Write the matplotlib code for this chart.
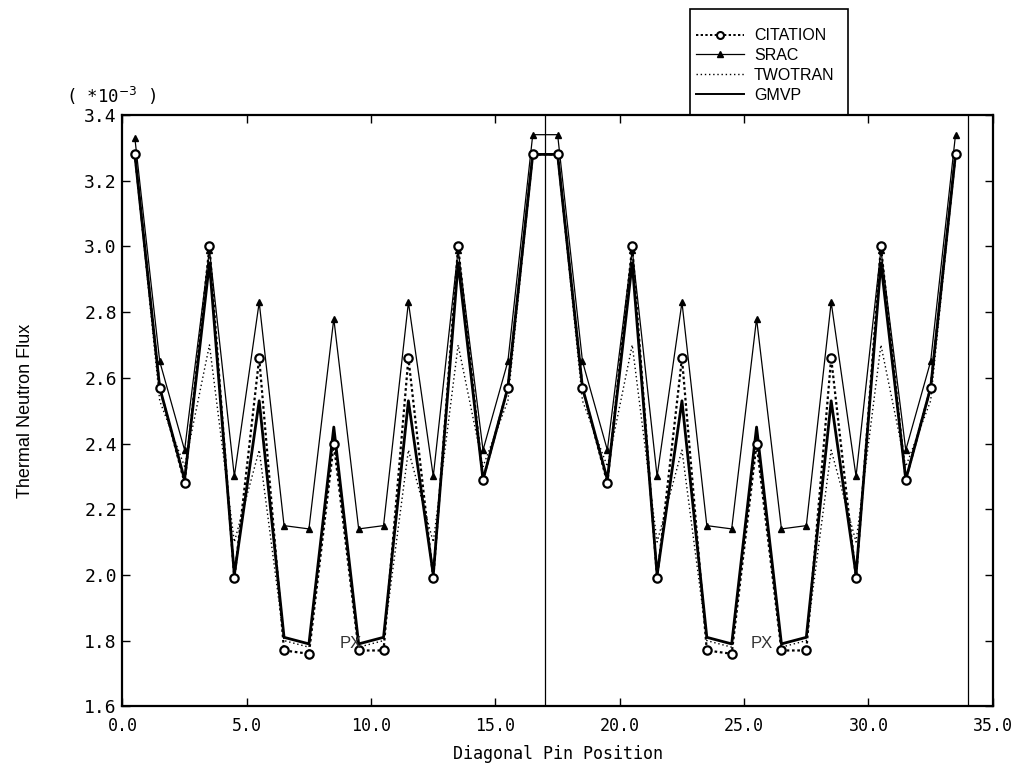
import matplotlib
matplotlib.use("Agg")
import matplotlib.pyplot as plt
from matplotlib.lines import Line2D
from matplotlib.patches import Rectangle

pin_position = [0.5, 1.5, 2.5, 3.5, 4.5, 5.5, 6.5, 7.5, 8.5, 9.5, 10.5, 11.5, 12.5, 13.5, 14.5, 15.5, 16.5,
                17.5, 18.5, 19.5, 20.5, 21.5, 22.5, 23.5, 24.5, 25.5, 26.5, 27.5, 28.5, 29.5, 30.5, 31.5, 32.5, 33.5]

citation = [3.28, 2.57, 2.28, 3.00, 1.99, 2.66, 1.77, 1.76, 2.40, 1.77, 1.77, 2.66, 1.99, 3.00, 2.29, 2.57, 3.28,
            3.28, 2.57, 2.28, 3.00, 1.99, 2.66, 1.77, 1.76, 2.40, 1.77, 1.77, 2.66, 1.99, 3.00, 2.29, 2.57, 3.28]
srac = [3.33, 2.65, 2.38, 2.99, 2.30, 2.83, 2.15, 2.14, 2.78, 2.14, 2.15, 2.83, 2.30, 2.99, 2.38, 2.65, 3.34,
        3.34, 2.65, 2.38, 2.99, 2.30, 2.83, 2.15, 2.14, 2.78, 2.14, 2.15, 2.83, 2.30, 2.99, 2.38, 2.65, 3.34]
twotran = [3.28, 2.53, 2.33, 2.70, 2.10, 2.38, 1.80, 1.78, 2.42, 1.78, 1.80, 2.38, 2.10, 2.70, 2.33, 2.53, 3.28,
           3.28, 2.53, 2.33, 2.70, 2.10, 2.38, 1.80, 1.78, 2.42, 1.78, 1.80, 2.38, 2.10, 2.70, 2.33, 2.53, 3.28]
gmvp = [3.28, 2.57, 2.29, 2.95, 2.00, 2.53, 1.81, 1.79, 2.45, 1.79, 1.81, 2.53, 2.00, 2.95, 2.29, 2.57, 3.28,
        3.28, 2.57, 2.29, 2.95, 2.00, 2.53, 1.81, 1.79, 2.45, 1.79, 1.81, 2.53, 2.00, 2.95, 2.29, 2.57, 3.28]

series_names = ["CITATION", "SRAC", "TWOTRAN", "GMVP"]
x_ticks = [0.0, 5.0, 10.0, 15.0, 20.0, 25.0, 30.0, 35.0]
y_ticks = [1.6, 1.8, 2.0, 2.2, 2.4, 2.6, 2.8, 3.0, 3.2, 3.4]
divider_positions = [17.0, 34.0]
px_labels = [(9.2, 1.79), (25.7, 1.79)]

mono = "DejaVu Sans Mono"

fig = plt.figure(figsize=(10.21, 7.64), dpi=100)
ax = fig.add_axes([0.1199, 0.0755, 0.8525, 0.774])

ax.plot(pin_position, gmvp, color="black", lw=2.0, zorder=3)
ax.plot(pin_position, srac, color="black", lw=0.9, marker="^", ms=4.2, zorder=4)
ax.plot(pin_position, twotran, color="black", lw=1.0, linestyle=(0, (1, 2)), zorder=2)
ax.plot(pin_position, citation, color="black", lw=1.6, linestyle=(0, (1.2, 1.2)),
        marker="o", ms=6.0, mfc="white", mec="black", mew=1.6, zorder=5)

for xv in divider_positions:
    ax.axvline(xv, color="black", lw=0.9, zorder=1)

for (xp, yp) in px_labels:
    ax.text(xp, yp, "PX", fontsize=12, color="#333333", ha="center", va="center",
            family="Liberation Sans", zorder=6)

ax.set_xlim(0, 35)
ax.set_ylim(1.6, 3.4)
ax.set_xticks(x_ticks)
ax.set_yticks(y_ticks)
ax.set_xticklabels([f"{v:.1f}" for v in x_ticks], family=mono, fontsize=12)
ax.set_yticklabels([f"{v:.1f}" for v in y_ticks], family=mono, fontsize=13)
ax.tick_params(direction="in", length=6, width=1, top=True, right=True, pad=4)
ax.tick_params(axis="x", pad=8)
for s in ax.spines.values():
    s.set_linewidth(1.6)

ax.set_xlabel("Diagonal Pin Position", family=mono, fontsize=12, labelpad=7)
ax.set_ylabel("Thermal Neutron Flux", family="Liberation Sans", fontsize=13, labelpad=36)

ax.text(-0.065, 1.014, "( *10$^{-3}$ )", transform=ax.transAxes, family=mono,
        fontsize=12.5, ha="left", va="bottom")

handles = [
    Line2D([], [], color="black", lw=1.4, linestyle=(0, (1.2, 1.2)), marker="o", ms=5,
           mfc="white", mec="black", mew=1.5),
    Line2D([], [], color="black", lw=0.9, marker="^", ms=4),
    Line2D([], [], color="black", lw=1.0, linestyle=(0, (1, 2))),
    Line2D([], [], color="black", lw=1.4),
]
leg = fig.legend(handles, series_names, loc="upper left", bbox_to_anchor=(0.668, 0.982),
                 frameon=False, handlelength=3.0,
                 handletextpad=0.6, borderpad=0.4, labelspacing=0.3,
                 prop={"family": "Liberation Sans", "size": 11.5})

fig.patches.append(Rectangle((690 / 1021, 1 - 115 / 764), (848 - 690) / 1021, (115 - 9) / 764,
                             transform=fig.transFigure, fill=False, edgecolor="black", lw=1.2))

fig.savefig("out.png", dpi=100)
